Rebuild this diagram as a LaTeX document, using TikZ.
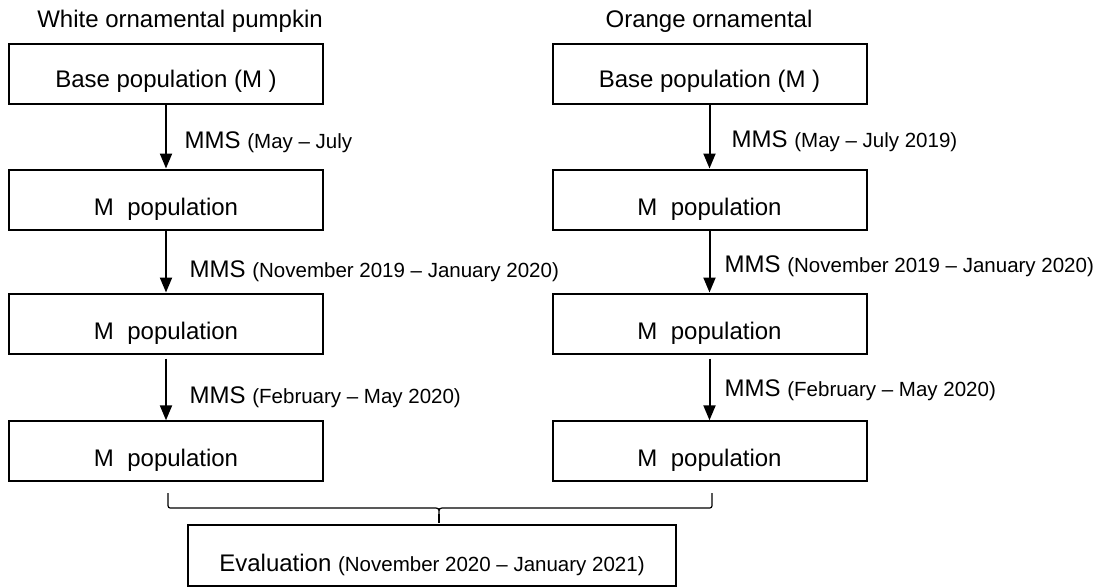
\documentclass[tikz,border=0pt]{standalone}
\usepackage{fontspec}
\setmainfont{Liberation Sans}
\usetikzlibrary{arrows.meta}
\newcommand{\smallpar}[1]{{\fontsize{20.5pt}{24pt}\selectfont #1}}
\begin{document}
\begin{tikzpicture}[x=1pt,y=-1pt,
  box/.style={draw, line width=2pt, minimum width=314pt, minimum height=60pt, inner sep=0pt,
    font=\fontsize{24pt}{28pt}\selectfont, text depth=0pt},
  popbox/.style={box, text height=31pt},
  basebox/.style={box, text height=26pt},
  arr/.style={line width=2pt, -{Triangle[length=15pt,width=12pt]}},
  lbl/.style={anchor=base west, inner sep=0pt, font=\fontsize{24pt}{28pt}\selectfont},
  ttl/.style={anchor=base, inner sep=0pt, font=\fontsize{24pt}{28pt}\selectfont},
  brc/.style={line width=1.2pt}]
\useasboundingbox (0,0) rectangle (1114,587);

% titles
\node[ttl] (t1) at (180,27.5) {White ornamental pumpkin};
\node[ttl] (t2) at (709,27.5) {Orange ornamental};

% left column
\node[basebox] (l1) at (166,74.3) {Base population (M )};
\node[popbox] (l2) at (166,199.5) {M\hspace{13.5pt}population};
\node[popbox] (l3) at (166,323.5) {M\hspace{13.5pt}population};
\node[popbox] (l4) at (166,451.3) {M\hspace{13.5pt}population};

% right column
\node[basebox] (r1) at (709.5,74.3) {Base population (M )};
\node[popbox] (r2) at (709.5,199.5) {M\hspace{13.5pt}population};
\node[popbox] (r3) at (709.5,323.5) {M\hspace{13.5pt}population};
\node[popbox] (r4) at (709.5,451.3) {M\hspace{13.5pt}population};

% evaluation
\node[box, minimum width=488pt, minimum height=61pt, text height=32pt] (ev) at (432,555.5)
  {Evaluation \smallpar{(November 2020 – January 2021)}};

% arrows
\draw[arr] (l1) -- (l2);
\draw[arr] (l2) -- (l3);
\draw[arr, shorten <=4pt] (l3) -- (l4);
\draw[arr] (r1) -- (r2);
\draw[arr] (r2) -- (r3);
\draw[arr, shorten <=4pt] (r3) -- (r4);

% arrow labels
\node[lbl] (la1) at (184.5,148) {MMS \smallpar{(May – July}};
\node[lbl] (la2) at (189.5,277) {MMS \smallpar{(November 2019 – January 2020)}};
\node[lbl] (la3) at (189.5,403) {MMS \smallpar{(February – May 2020)}};
\node[lbl] (ra1) at (731.5,147.5) {MMS \smallpar{(May – July 2019)}};
\node[lbl] (ra2) at (724.5,272) {MMS \smallpar{(November 2019 – January 2020)}};
\node[lbl] (ra3) at (724.5,396) {MMS \smallpar{(February – May 2020)}};

% brace
\coordinate (bl) at (168,493);
\coordinate (br) at (712,493);
\coordinate (bm) at (439,514);
\coordinate (bt) at (439,523);
\draw[brc] (bl) -- (168,503) .. controls (168,508) .. (173,508) -- (433,508)
  .. controls (439,508) .. (bm) .. controls (439,508) .. (445,508) -- (707,508)
  .. controls (712,508) .. (712,503) -- (br);
\draw[brc] (bm) -- (bt);
\end{tikzpicture}
\end{document}
